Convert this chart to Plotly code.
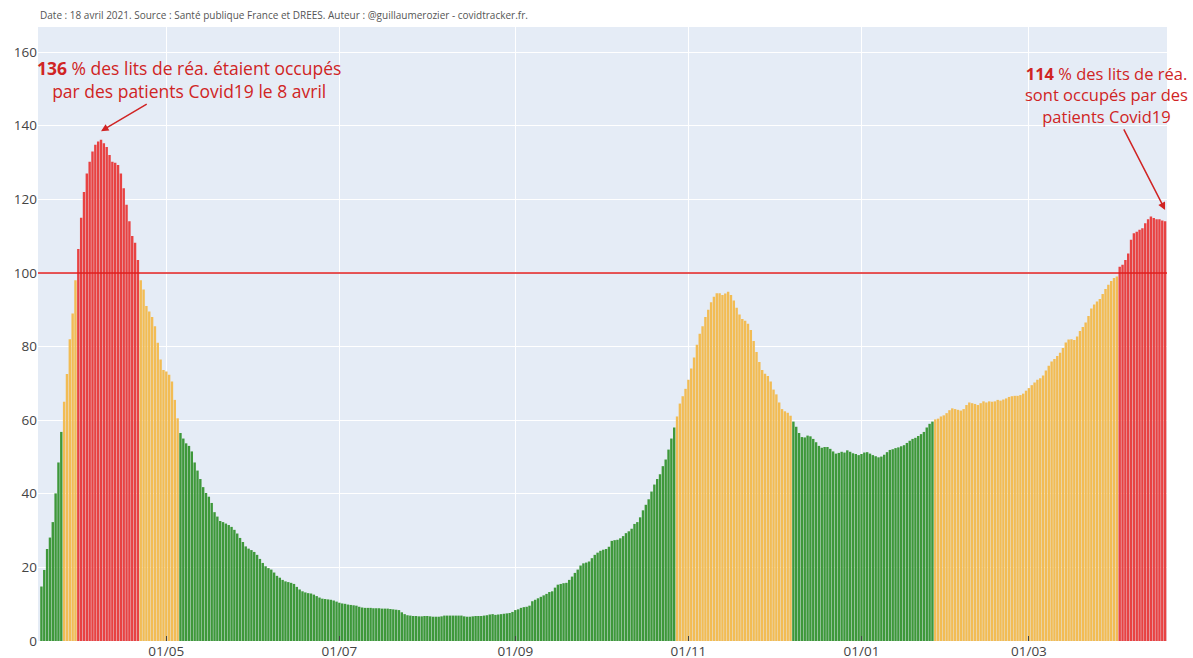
import pandas as pd
import plotly.graph_objects as go

START_DATE = "2020-03-18"

# % of ICU beds occupied by Covid19 patients, one value per day
wave1 = [
    14.8, 19.3, 25.0, 28.1, 32.3, 40.1, 48.5, 56.8, 65.0, 72.5,
    82.0, 89.0, 98.0, 106.5, 115.0, 122.0, 127.0, 130.2, 133.0, 134.8,
    135.7, 136.2, 135.2, 134.2, 132.0, 130.2, 129.9, 129.3, 127.0, 123.0,
    118.5, 114.0, 110.0, 108.2, 103.5, 98.0, 95.5, 91.0, 89.5, 88.0,
    85.5, 81.0, 76.5, 73.6, 73.2, 72.3, 70.5, 65.5, 60.5, 56.5,
    55.0, 53.7, 53.0, 51.5, 48.5, 46.3, 44.0, 41.8, 40.2, 39.2,
    37.5, 35.0, 33.8, 32.6, 32.3,
]
summer = [
    31.9, 31.5, 31.0, 30.2, 29.2, 28.0, 26.9, 25.7, 25.1, 24.7,
    24.2, 23.4, 22.3, 21.2, 20.3, 19.8, 19.4, 18.6, 17.7, 17.2,
    16.6, 16.2, 16.0, 15.8, 15.5, 14.7, 14.0, 13.5, 13.2, 13.0,
    12.9, 12.6, 12.2, 11.8, 11.5, 11.4, 11.3, 11.2, 11.0, 10.7,
    10.4, 10.2, 10.1, 9.9, 9.8, 9.7, 9.6, 9.3, 9.1, 9.0,
    9.0, 9.0, 8.9, 8.9, 8.9, 8.8, 8.8, 8.8, 8.7, 8.6,
    8.5, 8.4, 7.8, 7.3, 7.0, 6.9, 6.8, 6.8, 6.7, 6.7,
    6.8, 6.8,
]
autumn = [
    6.7, 6.6, 6.6, 6.6, 6.7, 6.9, 6.9, 6.9, 6.9, 6.9,
    6.9, 6.9, 6.7, 6.6, 6.6, 6.7, 6.8, 6.8, 6.8, 6.9,
    7.0, 7.2, 7.3, 7.1, 7.2, 7.3, 7.4, 7.5, 7.6, 7.9,
    8.4, 8.6, 9.0, 9.2, 9.3, 9.6, 10.8, 11.2, 11.6, 12.0,
    12.4, 12.8, 13.3, 13.5, 14.5, 15.3, 15.5, 15.7, 15.8, 16.6,
    17.5, 18.5, 19.4, 20.5, 21.1, 21.3, 21.6, 22.5, 23.4, 24.0,
    24.5, 24.8, 25.0, 25.6, 27.2, 27.4, 27.5, 27.9, 28.5, 29.3,
    29.8,
]
wave2 = [
    30.5, 31.8, 32.3, 33.6, 35.5, 37.0, 38.5, 40.6, 42.5, 44.0,
    45.3, 47.5, 49.3, 52.0, 55.0, 58.0, 61.0, 64.5, 66.5, 68.5,
    71.0, 74.0, 77.0, 80.5, 83.5, 85.5, 88.0, 90.0, 92.0, 93.5,
    94.5, 94.5, 94.0, 94.4, 94.9, 94.0, 92.5, 90.5, 88.7, 87.5,
    87.0, 86.2, 84.5, 81.5, 78.5, 75.8, 73.6, 72.6, 72.0, 70.5,
    68.3, 67.0, 64.8, 63.0, 62.4, 62.0, 61.2,
]
winter = [
    59.6, 58.2, 56.5, 55.4, 55.3, 55.8, 55.6, 54.9, 54.0, 53.0,
    52.5, 52.7, 52.7, 52.2, 51.5, 50.9, 51.1, 51.4, 51.2, 51.8,
    51.4, 51.0, 50.8, 50.5, 50.8, 51.2, 51.3, 50.9, 50.5, 50.2,
    49.9, 50.1, 50.6, 51.3, 51.9, 52.1, 52.4, 52.6, 52.9, 53.2,
    53.8, 54.4, 54.9, 55.2, 55.7, 56.2, 56.8, 58.0, 59.0, 59.6,
    60.2, 60.4, 61.0, 61.3, 61.9, 62.7, 63.2, 63.0, 62.8, 62.6,
    63.0, 64.1, 64.8, 64.6, 64.4, 64.1, 64.6, 65.1, 64.8, 65.1,
]
wave3 = [
    65.0, 65.1, 65.5, 65.3, 65.6, 65.9, 66.3, 66.5, 66.6, 66.6,
    66.8, 67.2, 68.0, 68.7, 69.5, 70.2, 71.0, 71.4, 72.1, 73.5,
    74.8, 75.9, 76.6, 77.4, 78.3, 79.6, 81.1, 81.9, 82.0, 81.8,
    82.7, 84.2, 85.3, 86.5, 88.3, 90.3, 91.4, 92.2, 92.9, 94.3,
    95.6, 96.8, 97.8, 98.6, 99.0, 101.7, 102.2, 103.5, 105.3, 109.0,
    110.8, 111.2, 111.7, 112.1, 113.5, 114.6, 115.3, 114.9, 114.6, 114.6,
    114.2, 114.0,
]

values = wave1 + summer + autumn + wave2 + winter + wave3
dates = pd.date_range(START_DATE, periods=len(values), freq="D")

GREEN = "rgb(62,152,58)"
ORANGE = "rgb(242,188,84)"
RED = "rgb(232,66,66)"
TEXT_RED = "rgb(208,36,36)"


def bar_color(v):
    if v > 100:
        return RED
    if v >= 60:
        return ORANGE
    return GREEN


colors = [bar_color(v) for v in values]

fig = go.Figure()
fig.add_trace(go.Bar(x=dates, y=values, marker=dict(color=colors, line=dict(width=0)),
                     showlegend=False))

fig.add_shape(type="line", xref="paper", x0=0, x1=1, yref="y", y0=100, y1=100,
              line=dict(color="rgb(225,30,30)", width=1.5), layer="above")

fig.add_annotation(
    x="2020-04-08", y=138.5,
    text="<b>136</b> % des lits de réa. étaient occupés<br>par des patients Covid19 le 8 avril",
    showarrow=True, arrowhead=2, arrowsize=1, arrowwidth=1.5, arrowcolor=TEXT_RED,
    ax=88, ay=-52, font=dict(size=17.5, color=TEXT_RED, family="Open Sans"),
    align="center",
)
fig.add_annotation(
    x="2021-04-18", y=117.1,
    text="<b>114</b> % des lits de réa.<br>sont occupés par des<br>patients Covid19",
    showarrow=True, arrowhead=2, arrowsize=1, arrowwidth=1.5, arrowcolor=TEXT_RED,
    ax=-59, ay=-115, font=dict(size=16.5, color=TEXT_RED, family="Open Sans"),
    align="center",
)
fig.add_annotation(
    xref="paper", yref="paper", x=0, y=1, xanchor="left", yanchor="bottom", yshift=3,
    text="Date : 18 avril 2021. Source : Santé publique France et DREES. Auteur : @guillaumerozier - covidtracker.fr.",
    showarrow=False, font=dict(size=10, color="#555", family="Open Sans"),
)

fig.update_layout(
    width=1193, height=658,
    template="plotly",
    margin=dict(l=38, r=26, t=27, b=17),
    bargap=0.15,
    plot_bgcolor="#E5ECF6",
    paper_bgcolor="white",
    font=dict(family="Open Sans", color="#444"),
)
fig.update_xaxes(
    type="date",
    range=["2020-03-16 19:00", "2021-04-18 16:00"],
    tick0="2020-05-01", dtick="M2", tickformat="%d/%m",
    ticks="inside", ticklen=5, tickcolor="#444",
    tickfont=dict(size=13.5, color="#444"),
    gridcolor="white", automargin=False, showline=False,
)
fig.update_yaxes(
    range=[0, 166.8], dtick=20,
    tickfont=dict(size=13.5, color="#444"),
    gridcolor="white", automargin=False, zeroline=False,
)

fig.write_html(
    "out.html",
    config={"displayModeBar": False},
    post_script="document.body.style.margin='0';document.body.style.overflow='hidden';",
)
